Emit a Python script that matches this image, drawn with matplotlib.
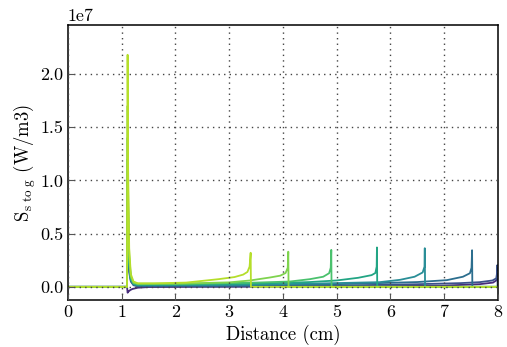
import matplotlib
matplotlib.use('Agg')
import matplotlib.pyplot as plt

plt.rcParams['font.family'] = 'cmr10'
plt.rcParams['mathtext.fontset'] = 'cm'
plt.rcParams['axes.unicode_minus'] = False
plt.rcParams['axes.formatter.use_mathtext'] = False

# values, y in MW/m3 (1e6 W/m3)
x_purple = [0, 1.10, 1.11, 1.13, 1.16, 1.2, 1.3, 1.5, 2.5, 4.0, 5.5, 7.0, 7.66, 7.91, 7.97, 8.0]
y_purple = [0, 0, -0.55, -0.42, -0.3, -0.2, -0.08, -0.02, 0.0, 0.02, 0.05, 0.12, 0.25, 0.4, 0.6, 0.9]

x_c7 = [0, 1.10, 1.11, 1.12, 1.14, 1.17, 1.22, 1.3, 3.0, 5.0, 6.5, 7.3, 7.66, 7.9, 7.97, 7.985, 7.99, 7.995, 8.0]
y_c7 = [0, 0, 6.0, 3.5, 1.4, 0.5, 0.15, 0.05, 0.05, 0.12, 0.25, 0.35, 0.44, 0.6, 0.8, 1.3, 2.04, 0, 0]

x_c6 = [0, 1.10, 1.11, 1.12, 1.14, 1.17, 1.22, 1.3, 3.0, 5.0, 6.5, 7.05, 7.35, 7.48, 7.51, 7.52, 7.525, 8.0]
y_c6 = [0, 0, 8.0, 4.5, 1.7, 0.6, 0.2, 0.1, 0.12, 0.25, 0.45, 0.63, 0.95, 1.28, 1.8, 3.44, 0, 0]

x_c5 = [0, 1.10, 1.11, 1.12, 1.14, 1.17, 1.22, 1.3, 3.0, 4.5, 5.8, 6.18, 6.45, 6.6, 6.635, 6.64, 6.645, 8.0]
y_c5 = [0, 0, 10.0, 5.5, 2.0, 0.7, 0.25, 0.15, 0.18, 0.3, 0.44, 0.66, 0.95, 1.35, 1.9, 3.63, 0, 0]

x_c4 = [0, 1.10, 1.11, 1.12, 1.14, 1.17, 1.22, 1.3, 2.5, 3.5, 4.5, 5.0, 5.4, 5.65, 5.72, 5.745, 5.75, 5.755, 8.0]
y_c4 = [0, 0, 12.0, 6.5, 2.3, 0.8, 0.3, 0.2, 0.25, 0.3, 0.45, 0.6, 0.85, 1.1, 1.3, 1.9, 3.7, 0, 0]

x_c3 = [0, 1.10, 1.11, 1.12, 1.14, 1.17, 1.22, 1.3, 2.5, 3.5, 4.13, 4.5, 4.75, 4.86, 4.89, 4.90, 4.905, 8.0]
y_c3 = [0, 0, 14.0, 7.5, 2.6, 0.9, 0.35, 0.25, 0.3, 0.4, 0.5, 0.72, 0.95, 1.28, 1.8, 3.47, 0, 0]

x_c2 = [0, 1.10, 1.11, 1.12, 1.14, 1.17, 1.22, 1.3, 2.0, 3.0, 3.39, 3.76, 3.95, 4.05, 4.09, 4.10, 4.105, 8.0]
y_c2 = [0, 0, 17.0, 9.0, 3.0, 1.0, 0.4, 0.3, 0.3, 0.42, 0.6, 0.88, 1.05, 1.3, 1.8, 3.3, 0, 0]

x_c1 = [0, 1.10, 1.11, 1.12, 1.14, 1.17, 1.22, 1.3, 1.6, 2.2, 2.8, 3.1, 3.26, 3.34, 3.38, 3.40, 3.405, 8.0]
y_c1 = [0, 0, 21.8, 11.0, 3.6, 1.2, 0.5, 0.33, 0.33, 0.4, 0.72, 0.92, 1.15, 1.4, 1.9, 3.2, 0, 0]

series = [
    (x_purple, y_purple, '#472c7a'),
    (x_c7, y_c7, '#3b528b'),
    (x_c6, y_c6, '#2c6e8e'),
    (x_c5, y_c5, '#2a8e97'),
    (x_c4, y_c4, '#22a584'),
    (x_c3, y_c3, '#4ac16d'),
    (x_c2, y_c2, '#7fd34e'),
    (x_c1, y_c1, '#b5de2b'),
]

fig = plt.figure(figsize=(5.07, 3.47), dpi=100)
ax = fig.add_axes([0.134, 0.135, 0.848, 0.793])

for xs, ys, col in series:
    ax.plot(xs, [v * 1e6 for v in ys], color=col, lw=1.3)

ax.set_xlim(0, 8)
ax.set_ylim(-1.25e6, 24.6e6)
ax.set_xticks(range(0, 9))
ax.set_yticks([0, 0.5e7, 1.0e7, 1.5e7, 2.0e7])

ax.set_axisbelow(False)
ax.grid(True, linestyle=(0, (1, 3)), color='#444444', linewidth=1.0)
ax.tick_params(direction='in', labelsize=13, length=4, color='#555555')
for sp in ax.spines.values():
    sp.set_linewidth(1.1)

ax.set_xlabel('Distance (cm)', fontsize=13.5, labelpad=3)
ax.set_ylabel(r'$\mathrm{S}_{\mathrm{s\ to\ g}}$ (W/m3)', fontsize=13.5, labelpad=1)
ax.yaxis.get_offset_text().set_fontsize(13)

fig.savefig('out.png', dpi=100)
